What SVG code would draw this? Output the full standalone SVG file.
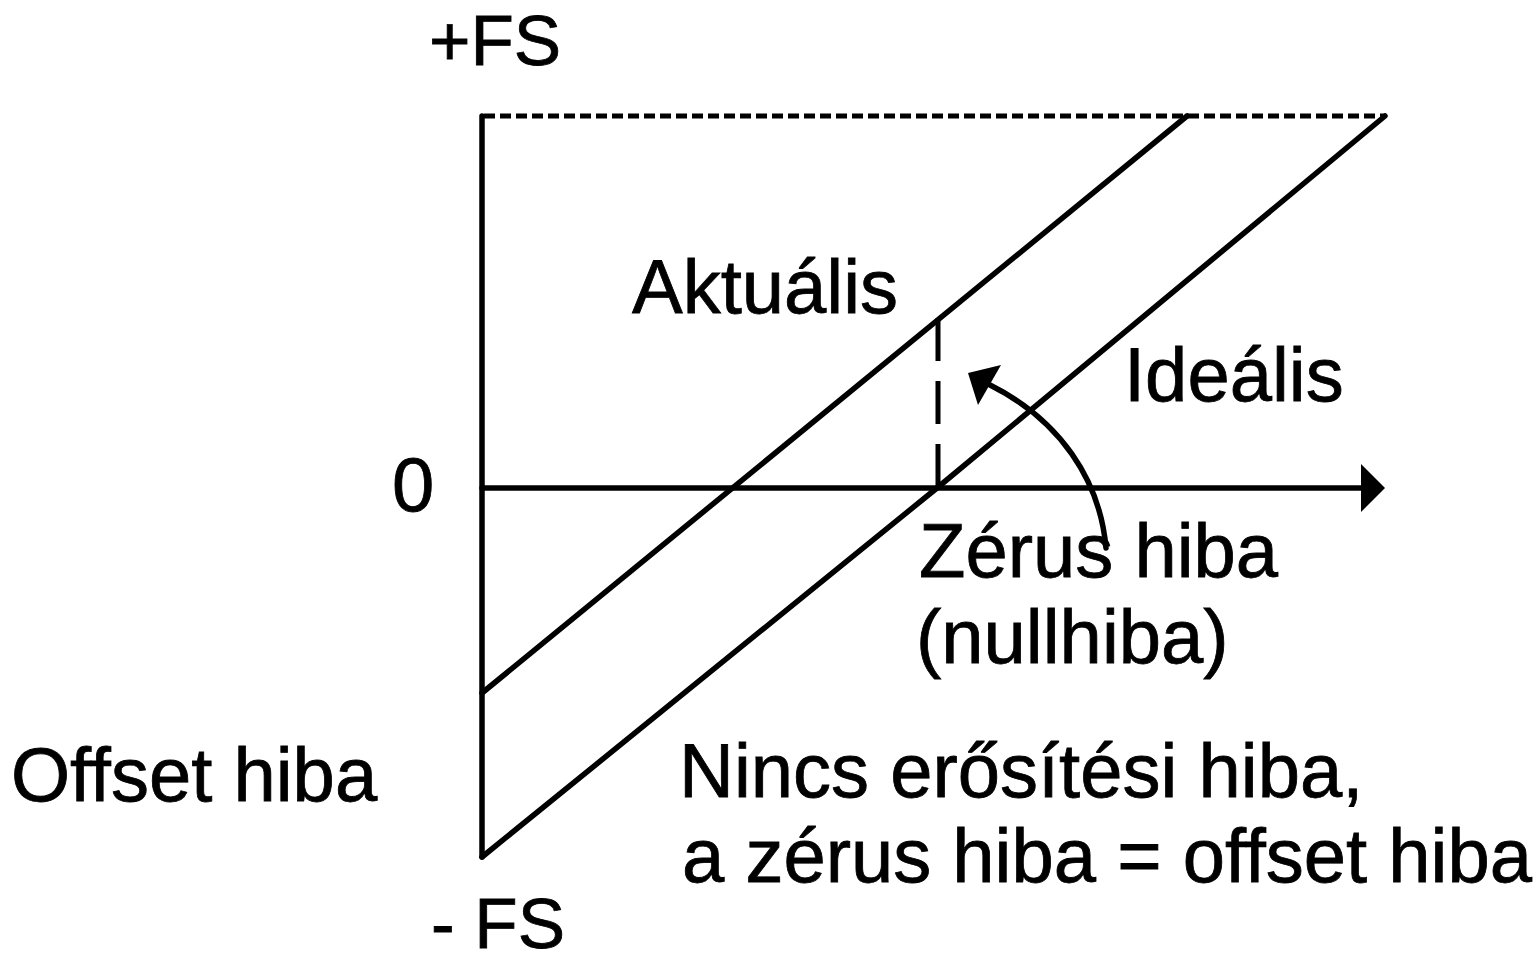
<svg xmlns="http://www.w3.org/2000/svg" width="1538" height="964" viewBox="0 0 1538 964">
<style>
text{font-family:"Liberation Sans",Arial,sans-serif;font-size:76px;fill:#000;stroke:#000;stroke-width:0.8}
.edge{font-size:71px}
.ln{stroke:#000;stroke-width:5.5;fill:none;stroke-linecap:round;stroke-linejoin:round}
.dot{stroke:#000;stroke-width:5;fill:none;stroke-dasharray:11 5}
.dash{stroke:#000;stroke-width:5;fill:none;stroke-dasharray:43 20}
</style>
<rect width="1538" height="964" fill="#fff"/>
<g id="axes">
<path class="ln" d="M482,116 L482,857"/>
<path class="ln" d="M482,488 L1362,488"/>
<polygon points="1361,464 1385,488 1361,512" fill="#000"/>
<path class="dot" d="M484,116 L1385,116"/>
</g>
<g id="connectors">
<path id="ideal-line" class="ln" d="M482,857 L937,488 L1385,116"/>
<path id="actual-line" class="ln" d="M482,693 L1187,116"/>
<path id="zero-error" class="dash" d="M938,318 L938,488"/>
<path id="curved-arrow" class="ln" d="M1106,548 C1100,480 1060,420 990,385"/>
<polygon points="968,373 1001,365 978,405" fill="#000"/>
</g>
<g id="labels">
<text class="edge" x="429" y="65">+FS</text>
<text x="392" y="511">0</text>
<text x="632" y="313">Aktuális</text>
<text x="1124" y="401">Ideális</text>
<text x="919" y="577">Zérus hiba</text>
<text x="916" y="663">(nullhiba)</text>
<text x="11" y="801">Offset hiba</text>
<text x="679" y="797">Nincs erősítési hiba,</text>
<text x="682" y="882">a zérus hiba = offset hiba</text>
<text class="edge" x="431" y="948">- FS</text>
</g>
</svg>
